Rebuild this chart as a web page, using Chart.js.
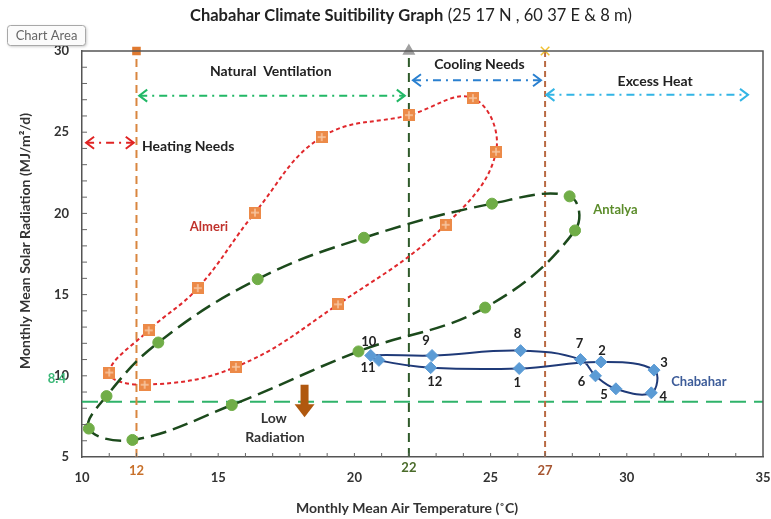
<!DOCTYPE html>
<html><head><meta charset="utf-8">
<script src="https://cdn.jsdelivr.net/npm/chart.js@4.4.1/dist/chart.umd.min.js"></script>
<style>html,body{margin:0;padding:0;background:#fff;}#wrap{width:771px;height:519px;position:relative;}</style>
</head><body><div id="wrap"><canvas id="c" width="771" height="519"></canvas></div>
<script>
// ---------------- DATA ----------------
const almeriTemp  = [11.0, 12.45, 14.25, 16.35, 18.8, 22.0, 24.35, 25.2, 23.35, 19.4, 15.65, 12.3];
const almeriRad   = [10.2, 12.8, 15.4, 20.05, 24.7, 26.05, 27.1, 23.8, 19.3, 14.4, 10.55, 9.45];
const antalyaTemp = [10.25, 10.9, 12.8, 16.45, 20.35, 25.05, 27.9, 28.1, 24.8, 20.15, 15.5, 11.85];
const antalyaRad  = [6.75, 8.75, 12.05, 15.95, 18.5, 20.6, 21.05, 18.95, 14.2, 11.5, 8.2, 6.05];
const chabaharMonths = ['1','2','3','4','5','6','7','8','9','10','11','12'];
const chabaharTemp = [26.05, 29.05, 31.0, 30.9, 29.6, 28.85, 28.3, 26.1, 22.85, 20.6, 20.9, 22.8];
const chabaharRad  = [10.45, 10.85, 10.35, 8.95, 9.2, 10.0, 11.0, 11.55, 11.25, 11.25, 10.95, 10.5];
const xTickLabels = [10, 15, 20, 25, 30, 35];
const yTickLabels = [5, 10, 15, 20, 25, 30];
const thresholdTemps = [12, 22, 27];
const lowRadiation = 8.4;
const zoneNames = ['Heating Needs', 'Natural  Ventilation', 'Cooling Needs', 'Excess Heat'];
const zoneFrom  = [10.15, 12.1, 22.15, 27.05];
const zoneTo    = [11.9, 21.85, 26.85, 34.45];
const zoneArrowY = [24.35, 27.25, 28.2, 27.3];

// ---------------- STYLE / LAYOUT ----------------
const F = 'Lato, "Open Sans", sans-serif';
const thresholdColors = ['#d9863f', '#2f5a2a', '#b96a43'];
const thresholdDash = [[8,5],[9,6],[6,4]];
const thresholdMarker = [
  {style:'rect', r:5, bg:'#e07a30', bc:'#e07a30'},
  {style:'triangle', r:6, bg:'#a0a0a0', bc:'#a0a0a0'},
  {style:'crossRot', r:6, bg:'#f0c030', bc:'#f0c030'}
];
const thresholdLabelColors = ['#c8702a', '#4a6b2a', '#a65530'];
const thresholdLabelY = [471, 468, 471];
const zoneColors = ['#e02424', '#22b866', '#2a80d0', '#33b5e5'];
const zoneLabelPos = [[12.2, 24.15, 'left'], [16.93, 28.72, 'center'], [24.59, 29.14, 'center'], [31.04, 28.15, 'center']];
const seriesLabels = [
  {t:'Almeri', x:14.66, y:19.16, align:'center', c:'#c0322c'},
  {t:'Antalya', x:28.77, y:20.2, align:'left', c:'#5b8c2a'},
  {t:'Chabahar', x:31.63, y:9.62, align:'left', c:'#3d5c99'}
];
const monthOffsets = [[-2,14],[1,-11],[10,-7],[12,4],[-12,6],[-14,6],[-1,-16],[-3,-17],[-6,-15],[-2,-14],[-11,7],[4,14]];

function pts(xs, ys) { return xs.map((x, i) => ({x: x, y: ys[i]})); }

// square marker with light cross (Excel style)
function squareMarker() {
  const c = document.createElement('canvas');
  c.width = 12; c.height = 12;
  const g = c.getContext('2d');
  g.fillStyle = '#ec8a48'; g.fillRect(0, 0, 12, 12);
  g.strokeStyle = '#f7c7a2'; g.lineWidth = 1.5;
  g.beginPath(); g.moveTo(6, 2); g.lineTo(6, 10); g.moveTo(2, 6); g.lineTo(10, 6); g.stroke();
  return c;
}

const datasets = [
  {label:'Chabahar', data: pts(chabaharTemp, chabaharRad), showLine:true, closed:true, tension:0.4,
   borderColor:'#1f3a78', borderWidth:2, pointStyle:'rectRot', pointRadius:6,
   pointBackgroundColor:'#5b9bd5', pointBorderColor:'#5b9bd5', pointBorderWidth:1},
  {label:'Antalya', data: pts(antalyaTemp, antalyaRad), showLine:true, closed:true, tension:0.4,
   borderColor:'#1c4a1c', borderWidth:2.5, borderDash:[16,7], pointStyle:'circle', pointRadius:5.5,
   pointBackgroundColor:'#70ad47', pointBorderColor:'#70ad47', pointBorderWidth:1},
  {label:'Almeri', data: pts(almeriTemp, almeriRad), showLine:true, closed:true, tension:0.4,
   borderColor:'#e0282c', borderWidth:2, borderDash:[4,3], pointStyle: squareMarker(), pointRadius:6}
];
thresholdTemps.forEach((t, i) => {
  const m = thresholdMarker[i];
  datasets.push({label:'T'+t, data:[{x:t, y:5}, {x:t, y:30}], showLine:true, clip:false,
    borderColor:thresholdColors[i], borderWidth:2, borderDash:thresholdDash[i],
    pointStyle:m.style, pointRadius:[0, m.r], pointBackgroundColor:m.bg, pointBorderColor:m.bc, pointBorderWidth:1.5});
});
datasets.push({label:'Low', data:[{x:10, y:lowRadiation}, {x:35, y:lowRadiation}], showLine:true,
  borderColor:'#2fb36a', borderWidth:2, borderDash:[16,8], pointRadius:0});
zoneNames.forEach((n, i) => {
  datasets.push({label:n, arrow:true, data:[{x:zoneFrom[i], y:zoneArrowY[i]}, {x:zoneTo[i], y:zoneArrowY[i]}], showLine:true,
    borderColor:zoneColors[i], borderWidth:2, borderDash:[8,5,2,5], pointRadius:0});
});

const loopPlugin = {
  id:'loop',
  afterDatasetsUpdate(chart) {
    chart.data.datasets.forEach((ds, i) => {
      if (ds.closed) {
        const line = chart.getDatasetMeta(i).dataset;
        line._loop = true; line._fullLoop = true; line._pointsUpdated = false;
        delete line._segments; delete line._path;
      }
    });
  }
};

const decoPlugin = {
  id:'deco',
  afterDraw(chart) {
    const ctx = chart.ctx, a = chart.chartArea, xs = chart.scales.x, ys = chart.scales.y;
    const X = v => xs.getPixelForValue(v), Y = v => ys.getPixelForValue(v);
    ctx.save();
    // top / right border
    ctx.strokeStyle = '#555'; ctx.lineWidth = 1.5;
    ctx.beginPath(); ctx.moveTo(a.left, a.top); ctx.lineTo(a.right, a.top); ctx.lineTo(a.right, a.bottom); ctx.stroke();
    // inward minor ticks
    ctx.lineWidth = 1; ctx.strokeStyle = '#666';
    ctx.beginPath();
    for (let v = 11; v < 35; v++) { ctx.moveTo(X(v), a.bottom); ctx.lineTo(X(v), a.bottom - 4); }
    for (let v = 6; v < 30; v++) { ctx.moveTo(a.left, Y(v)); ctx.lineTo(a.left + 5, Y(v)); }
    ctx.stroke();
    // threshold labels
    ctx.font = 'bold 13px ' + F; ctx.textAlign = 'center'; ctx.textBaseline = 'middle';
    thresholdTemps.forEach((t, i) => { ctx.fillStyle = thresholdLabelColors[i]; ctx.fillText(String(t), X(t), thresholdLabelY[i]); });
    // 8.4 label
    ctx.fillStyle = '#3cb878'; ctx.textAlign = 'right';
    ctx.fillText(String(lowRadiation), 66, Y(10) + 3);
    // arrowheads
    ctx.setLineDash([]); ctx.lineWidth = 2;
    zoneNames.forEach((n, i) => {
      const y = Y(zoneArrowY[i]), x1 = X(zoneFrom[i]), x2 = X(zoneTo[i]);
      ctx.strokeStyle = zoneColors[i];
      ctx.beginPath();
      ctx.moveTo(x1 + 8, y - 6); ctx.lineTo(x1, y); ctx.lineTo(x1 + 8, y + 6);
      ctx.moveTo(x2 - 8, y - 6); ctx.lineTo(x2, y); ctx.lineTo(x2 - 8, y + 6);
      ctx.stroke();
    });
    // zone labels
    ctx.font = 'bold 14px ' + F; ctx.fillStyle = '#222';
    zoneNames.forEach((n, i) => {
      const p = zoneLabelPos[i]; ctx.textAlign = p[2];
      ctx.fillText(n, X(p[0]), Y(p[1]));
    });
    // series labels
    seriesLabels.forEach(s => {
      ctx.font = 'bold 13px ' + F; ctx.fillStyle = s.c; ctx.textAlign = s.align;
      ctx.fillText(s.t, X(s.x), Y(s.y));
    });
    // month labels
    ctx.font = 'bold 13px ' + F; ctx.fillStyle = '#222'; ctx.textAlign = 'center';
    chabaharMonths.forEach((m, i) => {
      ctx.fillText(m, X(chabaharTemp[i]) + monthOffsets[i][0], Y(chabaharRad[i]) + monthOffsets[i][1]);
    });
    // low radiation arrow
    const ax = X(18.17), ay1 = Y(9.45), ay2 = Y(7.45);
    ctx.fillStyle = '#b0580f';
    ctx.fillRect(ax - 4, ay1, 8, (ay2 - ay1) - 12);
    ctx.beginPath(); ctx.moveTo(ax - 10, ay2 - 13); ctx.lineTo(ax + 10, ay2 - 13); ctx.lineTo(ax, ay2); ctx.closePath(); ctx.fill();
    ctx.font = 'bold 14px ' + F; ctx.fillStyle = '#333'; ctx.textAlign = 'center';
    ctx.fillText('Low', X(17.04), Y(7.4));
    ctx.fillText('Radiation', X(17.08), Y(6.23));
    // axis titles
    ctx.font = 'bold 14px ' + F; ctx.fillStyle = '#333';
    ctx.fillText('Monthly Mean Air Temperature (˚C)', 407, 508);
    ctx.save(); ctx.translate(25, 241); ctx.rotate(-Math.PI / 2);
    ctx.fillText('Monthly Mean Solar Radiation (MJ/m²/d)', 0, 0); ctx.restore();
    // chart title (bold + normal)
    const t1 = 'Chabahar Climate Suitibility Graph', t2 = ' (25 17 N , 60 37 E & 8 m)';
    ctx.font = 'bold 15px ' + F; const w1 = ctx.measureText(t1).width;
    ctx.font = '15px ' + F; const w2 = ctx.measureText(t2).width;
    const sc = 442 / (w1 + w2), fs = 15 * sc;
    const start = 411 - (w1 + w2) * sc / 2;
    ctx.textAlign = 'left'; ctx.fillStyle = '#222';
    ctx.font = 'bold ' + fs + 'px ' + F; ctx.fillText(t1, start, 16);
    ctx.font = fs + 'px ' + F; ctx.fillText(t2, start + w1 * sc, 16);
    // "Chart Area" tooltip box
    ctx.shadowColor = 'rgba(0,0,0,0.25)'; ctx.shadowBlur = 3; ctx.shadowOffsetX = 1; ctx.shadowOffsetY = 1;
    ctx.fillStyle = '#fbfbfb'; ctx.strokeStyle = '#a8a8a8'; ctx.lineWidth = 1;
    ctx.beginPath(); ctx.roundRect(7.5, 25.5, 78, 20, 3); ctx.fill();
    ctx.shadowColor = 'transparent'; ctx.stroke();
    ctx.font = '13px ' + F; ctx.fillStyle = '#666'; ctx.textAlign = 'center';
    ctx.fillText('Chart Area', 46.5, 36);
    ctx.restore();
  }
};

new Chart(document.getElementById('c'), {
  type:'scatter',
  data:{datasets: datasets},
  options:{
    responsive:false, animation:false,
    layout:{padding:{top:51, right:6, left:0, bottom:0}},
    plugins:{legend:{display:false}, tooltip:{enabled:false}},
    scales:{
      x:{type:'linear', min:10, max:35,
        afterBuildTicks: s => { s.ticks = xTickLabels.map(v => ({value:v})); },
        afterFit: s => { s.height = 62; s.paddingLeft = 0; s.paddingRight = 0; },
        grid:{display:false, drawTicks:false},
        border:{display:true, color:'#555', width:1.5},
        ticks:{padding:13, color:'#333', font:{family:F, size:13, weight:'bold'}}},
      y:{type:'linear', min:5, max:30,
        afterBuildTicks: s => { s.ticks = yTickLabels.map(v => ({value:v})); },
        afterFit: s => { s.width = 82; s.paddingTop = 0; s.paddingBottom = 0; },
        grid:{display:false, drawTicks:false},
        border:{display:true, color:'#555', width:1.5},
        ticks:{padding:13, color:'#333', font:{family:F, size:13, weight:'bold'}}}
    }
  },
  plugins:[loopPlugin, decoPlugin]
});
</script></body></html>
